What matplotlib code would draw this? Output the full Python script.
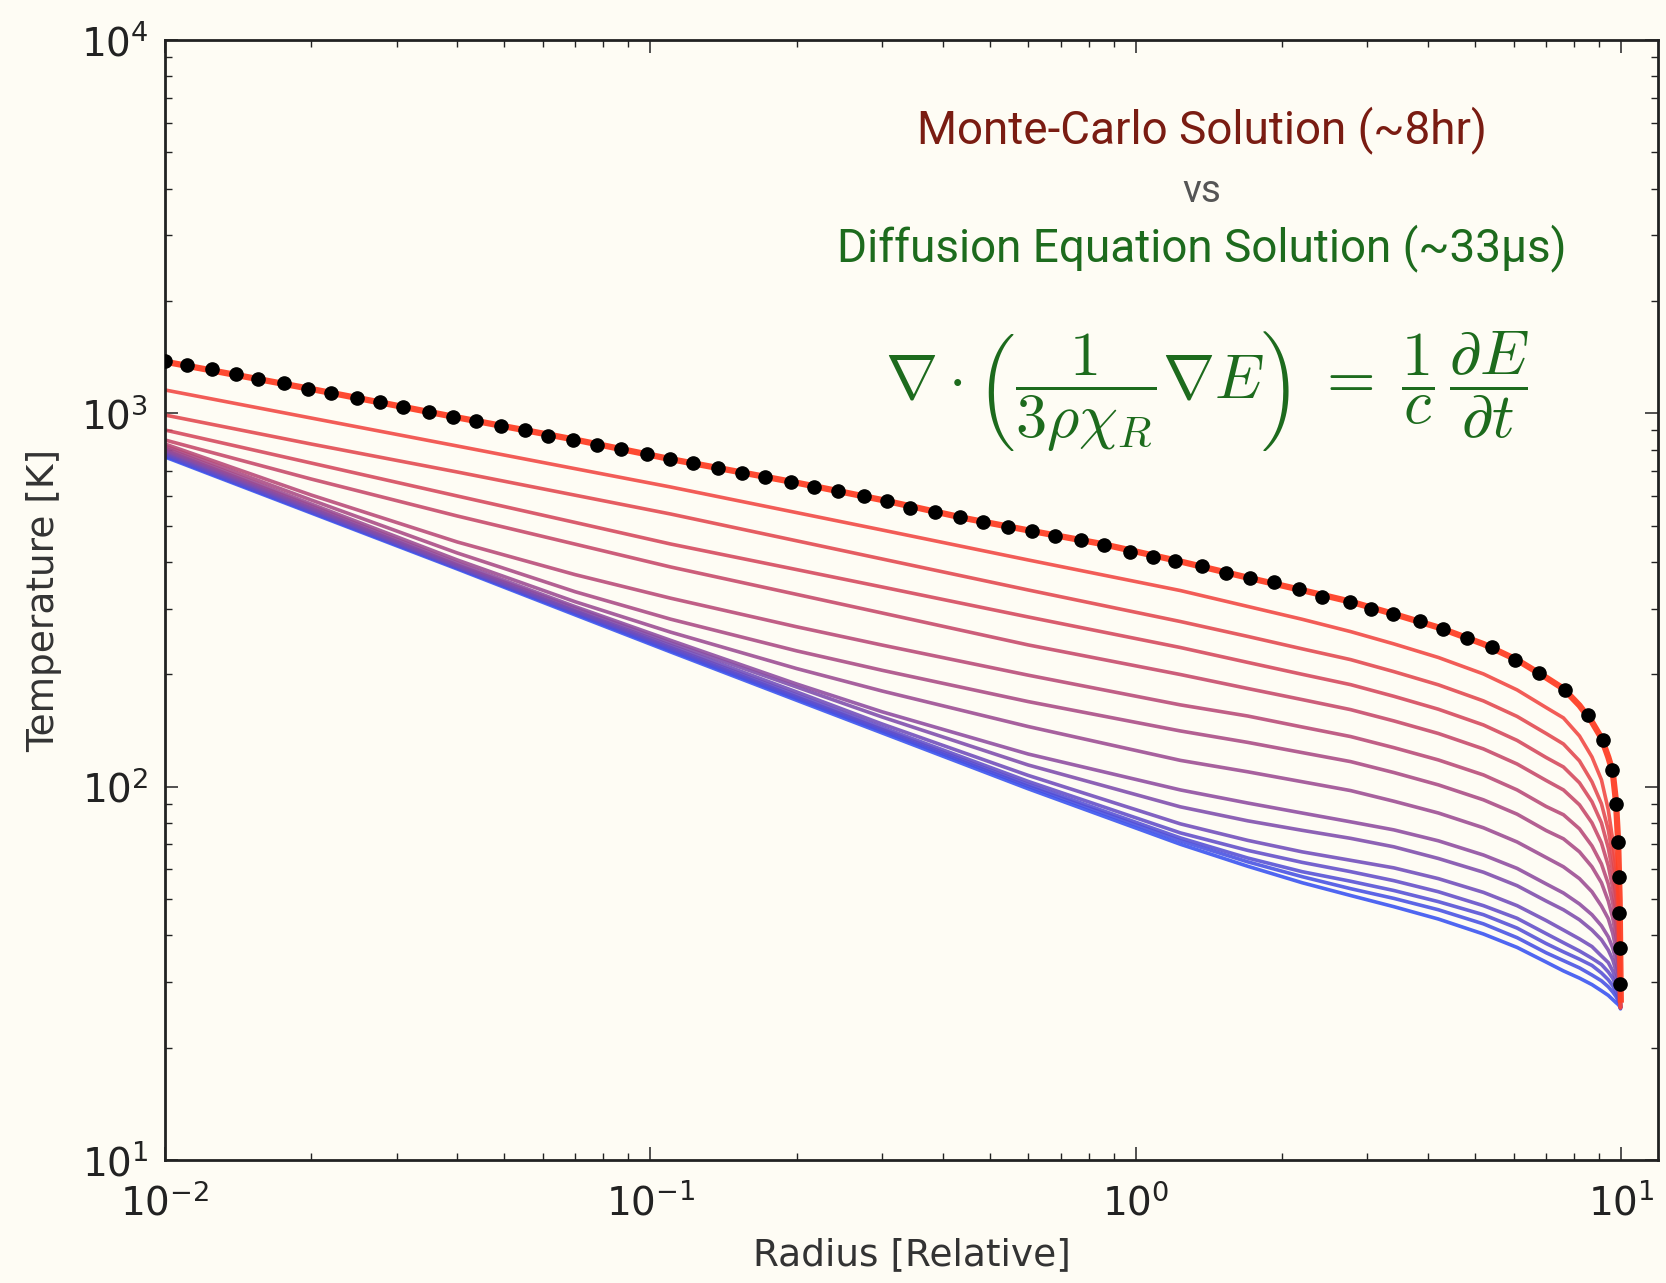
import numpy as np
import matplotlib
matplotlib.use("Agg")
import matplotlib.pyplot as plt
from matplotlib.ticker import NullFormatter, LogLocator

# ---------------- data ----------------
R_GRID = [0.01, 0.02, 0.04, 0.07, 0.11, 0.2, 0.3, 0.6, 1.235, 1.7, 2.2, 2.77, 3.4, 4.2,
          5.2, 6.1, 7.0, 7.6, 8.2, 8.7, 9.1, 9.4, 9.6, 9.75, 9.85, 9.92, 9.96]

# Monte-Carlo temperature snapshots, early (blue) -> late (red)
T_MC_14 = [763.9, 540.8, 382.9, 288.4, 229.6, 170.4, 139.3, 98.7, 70.1, 61.2, 55.3, 51.1, 47.7, 44.2,
           40.3, 37.1, 33.9, 32.1, 30.7, 29.5, 28.4, 27.6, 26.9, 26.4, 26.1, 25.8, 25.4]
T_MC_13 = [768.6, 544.1, 385.3, 291.0, 231.7, 172.3, 141.0, 100.2, 71.6, 62.9, 57.4, 53.3, 50.2, 46.8,
           42.9, 39.4, 35.9, 34.2, 32.7, 31.3, 30.2, 29.1, 28.2, 27.4, 26.7, 26.2, 25.6]
T_MC_12 = [773.4, 545.8, 386.5, 292.8, 233.9, 173.9, 142.3, 101.4, 72.9, 64.4, 59.2, 55.8, 52.7, 49.2,
           45.4, 41.8, 38.0, 36.1, 34.5, 33.2, 31.7, 30.4, 29.3, 28.2, 27.2, 26.4, 25.6]
T_MC_11 = [778.2, 549.2, 387.7, 294.7, 236.0, 176.1, 144.1, 103.3, 75.2, 67.5, 62.7, 59.2, 56.0, 52.3,
           48.0, 44.4, 40.4, 38.2, 36.3, 34.7, 33.4, 31.9, 30.7, 29.3, 28.1, 26.9, 25.6]
T_MC_10 = [785.4, 554.4, 390.1, 295.6, 239.0, 179.4, 147.2, 107.2, 79.5, 71.8, 66.9, 63.5, 60.6, 56.7,
           52.1, 48.0, 43.8, 41.3, 39.1, 37.3, 35.2, 33.8, 32.1, 30.4, 28.9, 27.4, 25.6]
T_MC_09 = [792.7, 557.8, 392.5, 300.2, 242.7, 184.9, 153.7, 114.3, 88.3, 81.0, 76.4, 72.7, 69.0, 64.2,
           59.0, 54.3, 49.4, 46.8, 44.0, 41.3, 38.9, 36.5, 34.4, 32.1, 30.2, 28.1, 25.6]
T_MC_08 = [797.6, 564.7, 397.4, 303.5, 246.6, 188.4, 158.7, 122.3, 98.0, 90.4, 85.0, 80.5, 76.6, 71.6,
           65.6, 60.4, 54.9, 51.9, 48.5, 45.4, 42.4, 39.6, 37.0, 34.2, 31.5, 28.8, 25.6]
T_MC_07 = [807.5, 571.7, 404.8, 312.8, 259.4, 207.2, 180.4, 144.9, 117.6, 109.6, 103.1, 97.6, 91.4, 85.0,
           77.6, 71.1, 64.6, 61.0, 56.7, 52.3, 47.9, 44.3, 40.5, 36.8, 33.4, 29.7, 25.6]
T_MC_06 = [817.5, 586.0, 422.6, 332.7, 281.0, 231.1, 205.0, 169.0, 141.0, 131.4, 123.4, 116.7, 109.1, 101.1,
           92.2, 84.4, 76.3, 72.5, 66.9, 61.0, 55.3, 49.4, 44.5, 39.6, 35.2, 30.6, 25.6]
T_MC_05 = [827.6, 604.3, 452.3, 369.7, 319.8, 268.1, 239.5, 198.9, 165.6, 154.6, 144.5, 136.2, 127.2, 117.9,
           107.5, 98.0, 88.5, 84.1, 77.1, 69.4, 62.1, 54.9, 48.8, 42.7, 37.3, 31.5, 25.6]
T_MC_04 = [848.3, 666.9, 530.9, 446.2, 387.7, 327.4, 291.9, 239.7, 199.7, 183.2, 171.1, 160.8, 150.0, 138.8,
           126.2, 115.0, 103.9, 98.0, 89.4, 80.0, 70.7, 61.4, 53.6, 46.2, 39.6, 32.7, 25.6]
T_MC_03 = [902.2, 736.1, 600.6, 510.1, 446.7, 381.5, 342.7, 284.8, 235.9, 215.2, 200.0, 187.6, 174.6, 161.2,
           146.3, 133.0, 119.7, 112.9, 102.4, 91.1, 80.0, 68.5, 59.2, 50.4, 42.4, 34.4, 25.6]
T_MC_02 = [989.6, 827.6, 696.4, 603.5, 537.5, 455.6, 407.3, 336.4, 276.9, 252.6, 234.0, 218.9, 203.3, 187.4,
           169.7, 154.2, 138.8, 130.1, 117.2, 103.0, 90.0, 76.6, 65.2, 54.6, 45.4, 36.1, 25.6]
T_MC_01 = [1155, 971.5, 817.5, 710.7, 634.9, 542.1, 487.0, 404.8, 335.2, 303.9, 280.8, 260.2, 241.2, 221.8,
           200.4, 181.6, 162.9, 152.8, 136.7, 120.1, 104.3, 86.7, 72.0, 59.9, 49.7, 38.9, 25.6]

# final (converged) Monte-Carlo curve
R_FINAL = [0.01, 0.02, 0.04, 0.07, 0.11, 0.2, 0.3, 0.45, 0.6, 0.85, 1.235, 1.7, 2.2, 2.77, 3.4, 4.2,
           5.2, 6.1, 7.0, 7.6, 8.2, 8.7, 9.1, 9.4, 9.6, 9.75, 9.85, 9.92, 9.96, 9.975]
T_FINAL = [1375, 1162, 975, 850, 754, 652, 586, 522, 486, 447, 401, 363, 336, 313, 290, 267,
           241, 218.5, 196, 183, 165, 149, 135, 120, 109.5, 91.1, 71.1, 49.7, 31.3, 26.9]

# diffusion-equation solution (black dots)
DOT_R = [0.01, 0.01108, 0.01248, 0.01401, 0.01557, 0.01759, 0.01974, 0.02195, 0.02483, 0.02773,
         0.03097, 0.03504, 0.03915, 0.04375, 0.04917, 0.05518, 0.06163, 0.06937, 0.07776, 0.0869,
         0.09831, 0.1098, 0.1223, 0.1380, 0.1543, 0.1723, 0.1949, 0.2175, 0.2440, 0.2748,
         0.3070, 0.3428, 0.3860, 0.4333, 0.4831, 0.5450, 0.6107, 0.6823, 0.7706, 0.8606,
         0.9706, 1.0845, 1.2056, 1.3685, 1.5356, 1.7150, 1.9286, 2.1641, 2.4176, 2.765,
         3.05, 3.39, 3.84, 4.29, 4.80, 5.42, 6.05, 6.76, 7.65, 8.53,
         9.15, 9.57, 9.76, 9.84, 9.88, 9.91, 9.94, 9.96]
DOT_T = [1383, 1347, 1312, 1275, 1236, 1203, 1164, 1136, 1101, 1070,
         1038, 1010, 979, 954, 925, 901, 871, 850, 824, 802,
         778, 756, 735, 712, 693, 674, 656, 636, 619, 601,
         583, 559, 543, 527, 513, 497, 484, 469, 458, 444,
         426, 413, 402, 390, 374, 363, 354, 338, 323, 313,
         300, 290, 277, 264, 250, 236, 219, 201, 182, 155.5,
         133, 111, 90, 71, 57.4, 45.8, 36.9, 29.7]

MC_SERIES = [T_MC_14, T_MC_13, T_MC_12, T_MC_11, T_MC_10, T_MC_09, T_MC_08,
             T_MC_07, T_MC_06, T_MC_05, T_MC_04, T_MC_03, T_MC_02, T_MC_01]

TITLE_MC = "Monte-Carlo Solution (~8hr)"
TITLE_VS = "vs"
TITLE_DIFF = "Diffusion Equation Solution (~33\u03bcs)"
EQUATION = (r"$\nabla\cdot\left(\dfrac{1}{3\rho\chi_R}\nabla E\right)\;=\;"
            r"\dfrac{1}{c}\,\dfrac{\partial E}{\partial t}$")
XLABEL = "Radius [Relative]"
YLABEL = "Temperature [K]"

# ---------------- style ----------------
BG = "#fefcf4"
W, H, DPI = 1666, 1283, 100

plt.rcParams["font.family"] = ["DejaVu Sans"]
plt.rcParams["mathtext.fontset"] = "dejavusans"

fig = plt.figure(figsize=(W / DPI, H / DPI), dpi=DPI, facecolor=BG)
ax = fig.add_axes([165 / W, 1 - 1160 / H, (1658 - 165) / W, (1160 - 40) / H])
ax.set_facecolor(BG)
ax.set_xscale("log")
ax.set_yscale("log")

c_red = np.array([1.0, 0.27, 0.20])
c_blue = np.array([0.16, 0.32, 1.0])
n = len(MC_SERIES)
for i, T in enumerate(MC_SERIES):
    t = (i + 1) / (n + 1)
    col = (1 - t) * c_blue + t * c_red
    ax.plot(R_GRID, T, color=col, lw=2.6, alpha=0.88, solid_joinstyle="round",
            solid_capstyle="round", zorder=2)

ax.plot(R_FINAL, T_FINAL, color=(1.0, 0.25, 0.15), lw=4.5, alpha=0.95,
        solid_joinstyle="round", zorder=3)
ax.plot(DOT_R, DOT_T, linestyle="none", marker="o", ms=9.5, color="black", zorder=4)

ax.set_xlim(0.01, 11.9)
ax.set_ylim(10, 1e4)

for s in ax.spines.values():
    s.set_linewidth(2.0)
    s.set_color("#222222")

ax.xaxis.set_major_locator(LogLocator(base=10, numticks=10))
ax.yaxis.set_major_locator(LogLocator(base=10, numticks=10))
ax.xaxis.set_minor_locator(LogLocator(base=10, subs=np.arange(2, 10), numticks=50))
ax.yaxis.set_minor_locator(LogLocator(base=10, subs=np.arange(2, 10), numticks=50))
ax.xaxis.set_minor_formatter(NullFormatter())
ax.yaxis.set_minor_formatter(NullFormatter())
ax.tick_params(which="both", direction="in", top=True, right=True, colors="#222222")
ax.tick_params(which="major", length=9.5, width=1.1, labelsize=28, pad=12)
ax.tick_params(axis="x", which="major", pad=17)
ax.tick_params(which="minor", length=4.8, width=1.0)

ax.set_xlabel(XLABEL, fontsize=27, color="#333333")
ax.set_ylabel(YLABEL, fontsize=27, color="#333333")
ax.xaxis.set_label_coords(0.5, -0.0686)
ax.yaxis.set_label_coords(-0.069, 0.5)

ann = ["Roboto", "DejaVu Sans"]
fig.text(1202 / W, 1 - 130 / H, TITLE_MC, ha="center", va="center", fontsize=33,
         family=ann, color="#7a1c12")
fig.text(1202 / W, 1 - 191 / H, TITLE_VS, ha="center", va="center", fontsize=28,
         family=ann, color="#555555")
fig.text(1202 / W, 1 - 248 / H, TITLE_DIFF, ha="center", va="center", fontsize=33,
         family=ann, color="#1d6b1d")
fig.text(1207 / W, 1 - 391 / H, EQUATION, ha="center", va="center", fontsize=45,
         math_fontfamily="cm", color="#1d6b1d")

fig.savefig("out.png", dpi=DPI, facecolor=BG)
